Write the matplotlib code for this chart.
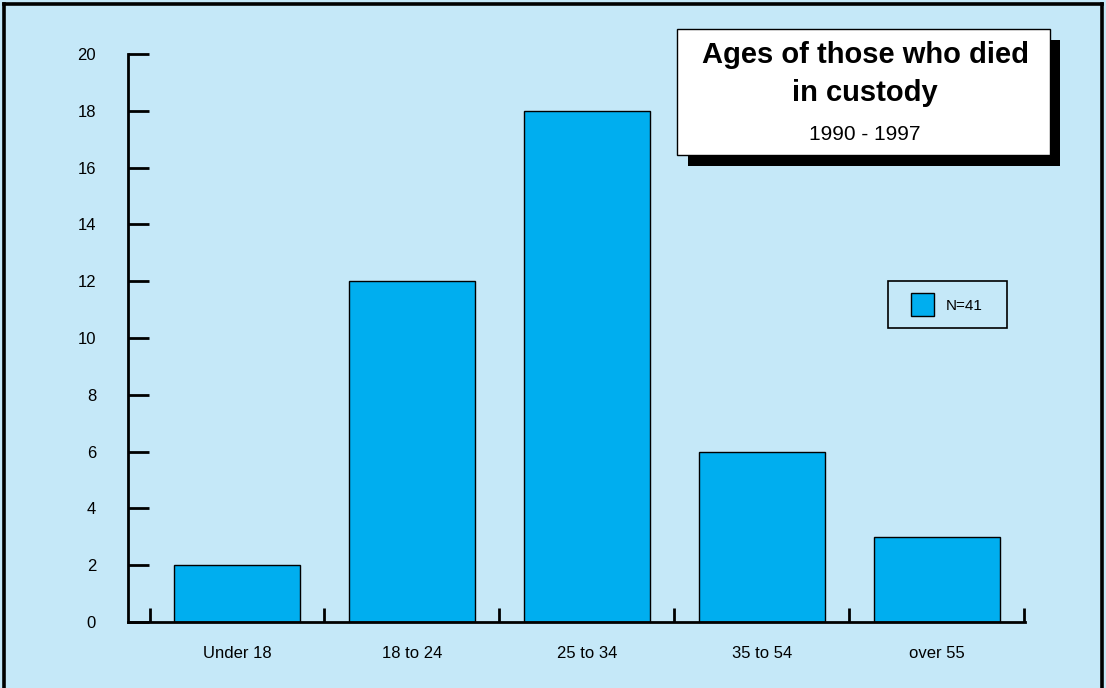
import matplotlib
matplotlib.use("Agg")
import matplotlib.pyplot as plt
from matplotlib.patches import Rectangle
from matplotlib.lines import Line2D

plt.rcParams['font.family'] = ['Liberation Sans', 'DejaVu Sans']

categories = ["Under 18", "18 to 24", "25 to 34", "35 to 54", "over 55"]
deaths = [2, 12, 18, 6, 3]
y_ticks = [0, 2, 4, 6, 8, 10, 12, 14, 16, 18, 20]
title_lines = "Ages of those who died\nin custody"
subtitle = "1990 - 1997"
legend_label = "N=41"

BG = "#C5E8F8"
BAR = "#00AEEF"

W, H = 1106, 688
fig = plt.figure(figsize=(W / 100, H / 100), dpi=100, facecolor=BG)

def fx(px):
    return px / W

def fy(py):
    return 1 - py / H

# outer frame (left, top, right)
for xs, ys in [((fx(4), fx(4)), (0, fy(4))), ((fx(4), fx(1102)), (fy(4), fy(4))),
               ((fx(1102), fx(1102)), (0, fy(4)))]:
    fig.add_artist(Line2D(xs, ys, color="black", lw=2.6, transform=fig.transFigure))

ax = fig.add_axes([fx(128), fy(622), fx(1025) - fx(128), fy(54) - fy(622)])
ax.set_facecolor(BG)
x = list(range(len(categories)))
ax.bar(x, deaths, width=0.72, color=BAR, edgecolor="black", linewidth=1.0, zorder=2)

ax.set_xlim(-0.623, 4.505)
ax.set_ylim(0, 20)
for s in ["top", "right"]:
    ax.spines[s].set_visible(False)
for s in ["left", "bottom"]:
    ax.spines[s].set_linewidth(2.0)
    ax.spines[s].set_zorder(3)

ax.set_yticks(y_ticks)
ax.set_yticklabels([str(v) for v in y_ticks], fontsize=12)
ax.tick_params(axis="y", direction="in", length=15, width=2.0, pad=23)

ax.set_xticks(x)
ax.set_xticklabels(categories, fontsize=12)
ax.tick_params(axis="x", which="major", length=0, pad=17)
ax.set_xticks([i - 0.5 for i in range(len(categories) + 1)], minor=True)
ax.tick_params(axis="x", which="minor", direction="in", length=10, width=2.0)

# title box with drop shadow
fig.add_artist(Rectangle((fx(688), fy(166)), fx(1060) - fx(688), fy(40) - fy(166),
                         transform=fig.transFigure, facecolor="black", edgecolor="none"))
fig.add_artist(Rectangle((fx(677), fy(155)), fx(1050) - fx(677), fy(29) - fy(155),
                         transform=fig.transFigure, facecolor="white", edgecolor="black",
                         linewidth=1.0))
fig.text(fx(865), fy(74), title_lines, ha="center", va="center", fontsize=21,
         fontweight="bold", linespacing=1.42)
fig.text(fx(865), fy(135), subtitle, ha="center", va="center", fontsize=15)

# legend box
fig.add_artist(Rectangle((fx(888), fy(328)), fx(1007) - fx(888), fy(281) - fy(328),
                         transform=fig.transFigure, facecolor=BG, edgecolor="black",
                         linewidth=1.2))
fig.add_artist(Rectangle((fx(911), fy(316)), fx(934) - fx(911), fy(293) - fy(316),
                         transform=fig.transFigure, facecolor=BAR, edgecolor="black",
                         linewidth=1.0))
fig.text(fx(946), fy(306), legend_label, ha="left", va="center", fontsize=11)

fig.savefig("out.png", dpi=100, facecolor=BG)
